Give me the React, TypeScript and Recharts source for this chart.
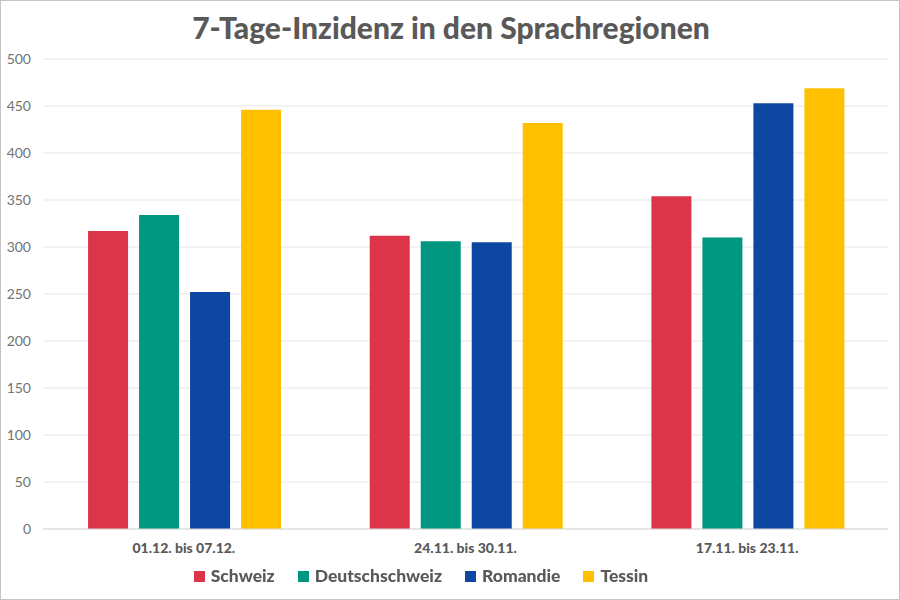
import React from 'react';
import { BarChart, Bar, XAxis, YAxis, CartesianGrid, Legend } from 'recharts';

// data
const weeks = ['01.12. bis 07.12.', '24.11. bis 30.11.', '17.11. bis 23.11.'];
const schweiz = [317, 312, 354];
const deutschschweiz = [334, 306, 310];
const romandie = [252, 305, 453];
const tessin = [446, 432, 469];
const yTicks = [0, 50, 100, 150, 200, 250, 300, 350, 400, 450, 500];

const series = [
  { key: 'Schweiz', color: '#DC3549' },
  { key: 'Deutschschweiz', color: '#00967F' },
  { key: 'Romandie', color: '#0D47A1' },
  { key: 'Tessin', color: '#FFC000' },
];

const data = weeks.map((w, i) => ({
  week: w,
  Schweiz: schweiz[i],
  Deutschschweiz: deutschschweiz[i],
  Romandie: romandie[i],
  Tessin: tessin[i],
}));

const FONT = 'Lato, "Open Sans", sans-serif';

function LegendContent() {
  return (
    <div
      style={{
        display: 'flex',
        justifyContent: 'center',
        gap: 23,
        paddingTop: 6,
        marginLeft: -46,
        fontFamily: FONT,
        fontWeight: 900,
        fontSize: 17.5,
        color: '#595959',
        lineHeight: '22px',
      }}
    >
      {series.map((s) => (
        <div key={s.key} style={{ display: 'flex', alignItems: 'center' }}>
          <span style={{ width: 11, height: 11, background: s.color, marginRight: 6, display: 'inline-block' }} />
          {s.key}
        </div>
      ))}
    </div>
  );
}

export default function App() {
  return (
    <div
      style={{
        position: 'fixed',
        top: 0,
        left: 0,
        width: 900,
        height: 600,
        background: '#fff',
        boxSizing: 'border-box',
        border: '1px solid #c4c4c4',
        fontFamily: FONT,
      }}
    >
      <div
        style={{
          position: 'absolute',
          top: 7,
          left: 0,
          width: 900,
          textAlign: 'center',
          fontSize: 30,
          fontWeight: 900,
          color: '#595959',
          lineHeight: '38px',
        }}
      >
        7-Tage-Inzidenz in den Sprachregionen
      </div>
      <div style={{ position: 'absolute', top: -1, left: -1 }}>
        <BarChart
          width={900}
          height={600}
          data={data}
          margin={{ top: 59, right: 12, bottom: 11, left: 0 }}
          barCategoryGap="16%"
          barGap={11}
        >
          <CartesianGrid vertical={false} stroke="#e6e6e6" />
          <XAxis
            dataKey="week"
            height={30}
            tickLine={false}
            axisLine={{ stroke: '#d9d9d9' }}
            tickMargin={8}
            tick={{ fill: '#595959', fontSize: 14, fontWeight: 900, fontFamily: FONT }}
          />
          <YAxis
            width={43}
            domain={[0, 500]}
            ticks={yTicks}
            tickLine={false}
            axisLine={false}
            tickSize={0}
            tickMargin={12}
            tick={{ fill: '#737373', fontSize: 14, fontFamily: FONT }}
          />
          <Legend verticalAlign="bottom" wrapperStyle={{ height: 30 }} content={<LegendContent />} />
          {series.map((s) => (
            <Bar key={s.key} dataKey={s.key} fill={s.color} isAnimationActive={false} />
          ))}
        </BarChart>
      </div>
    </div>
  );
}
